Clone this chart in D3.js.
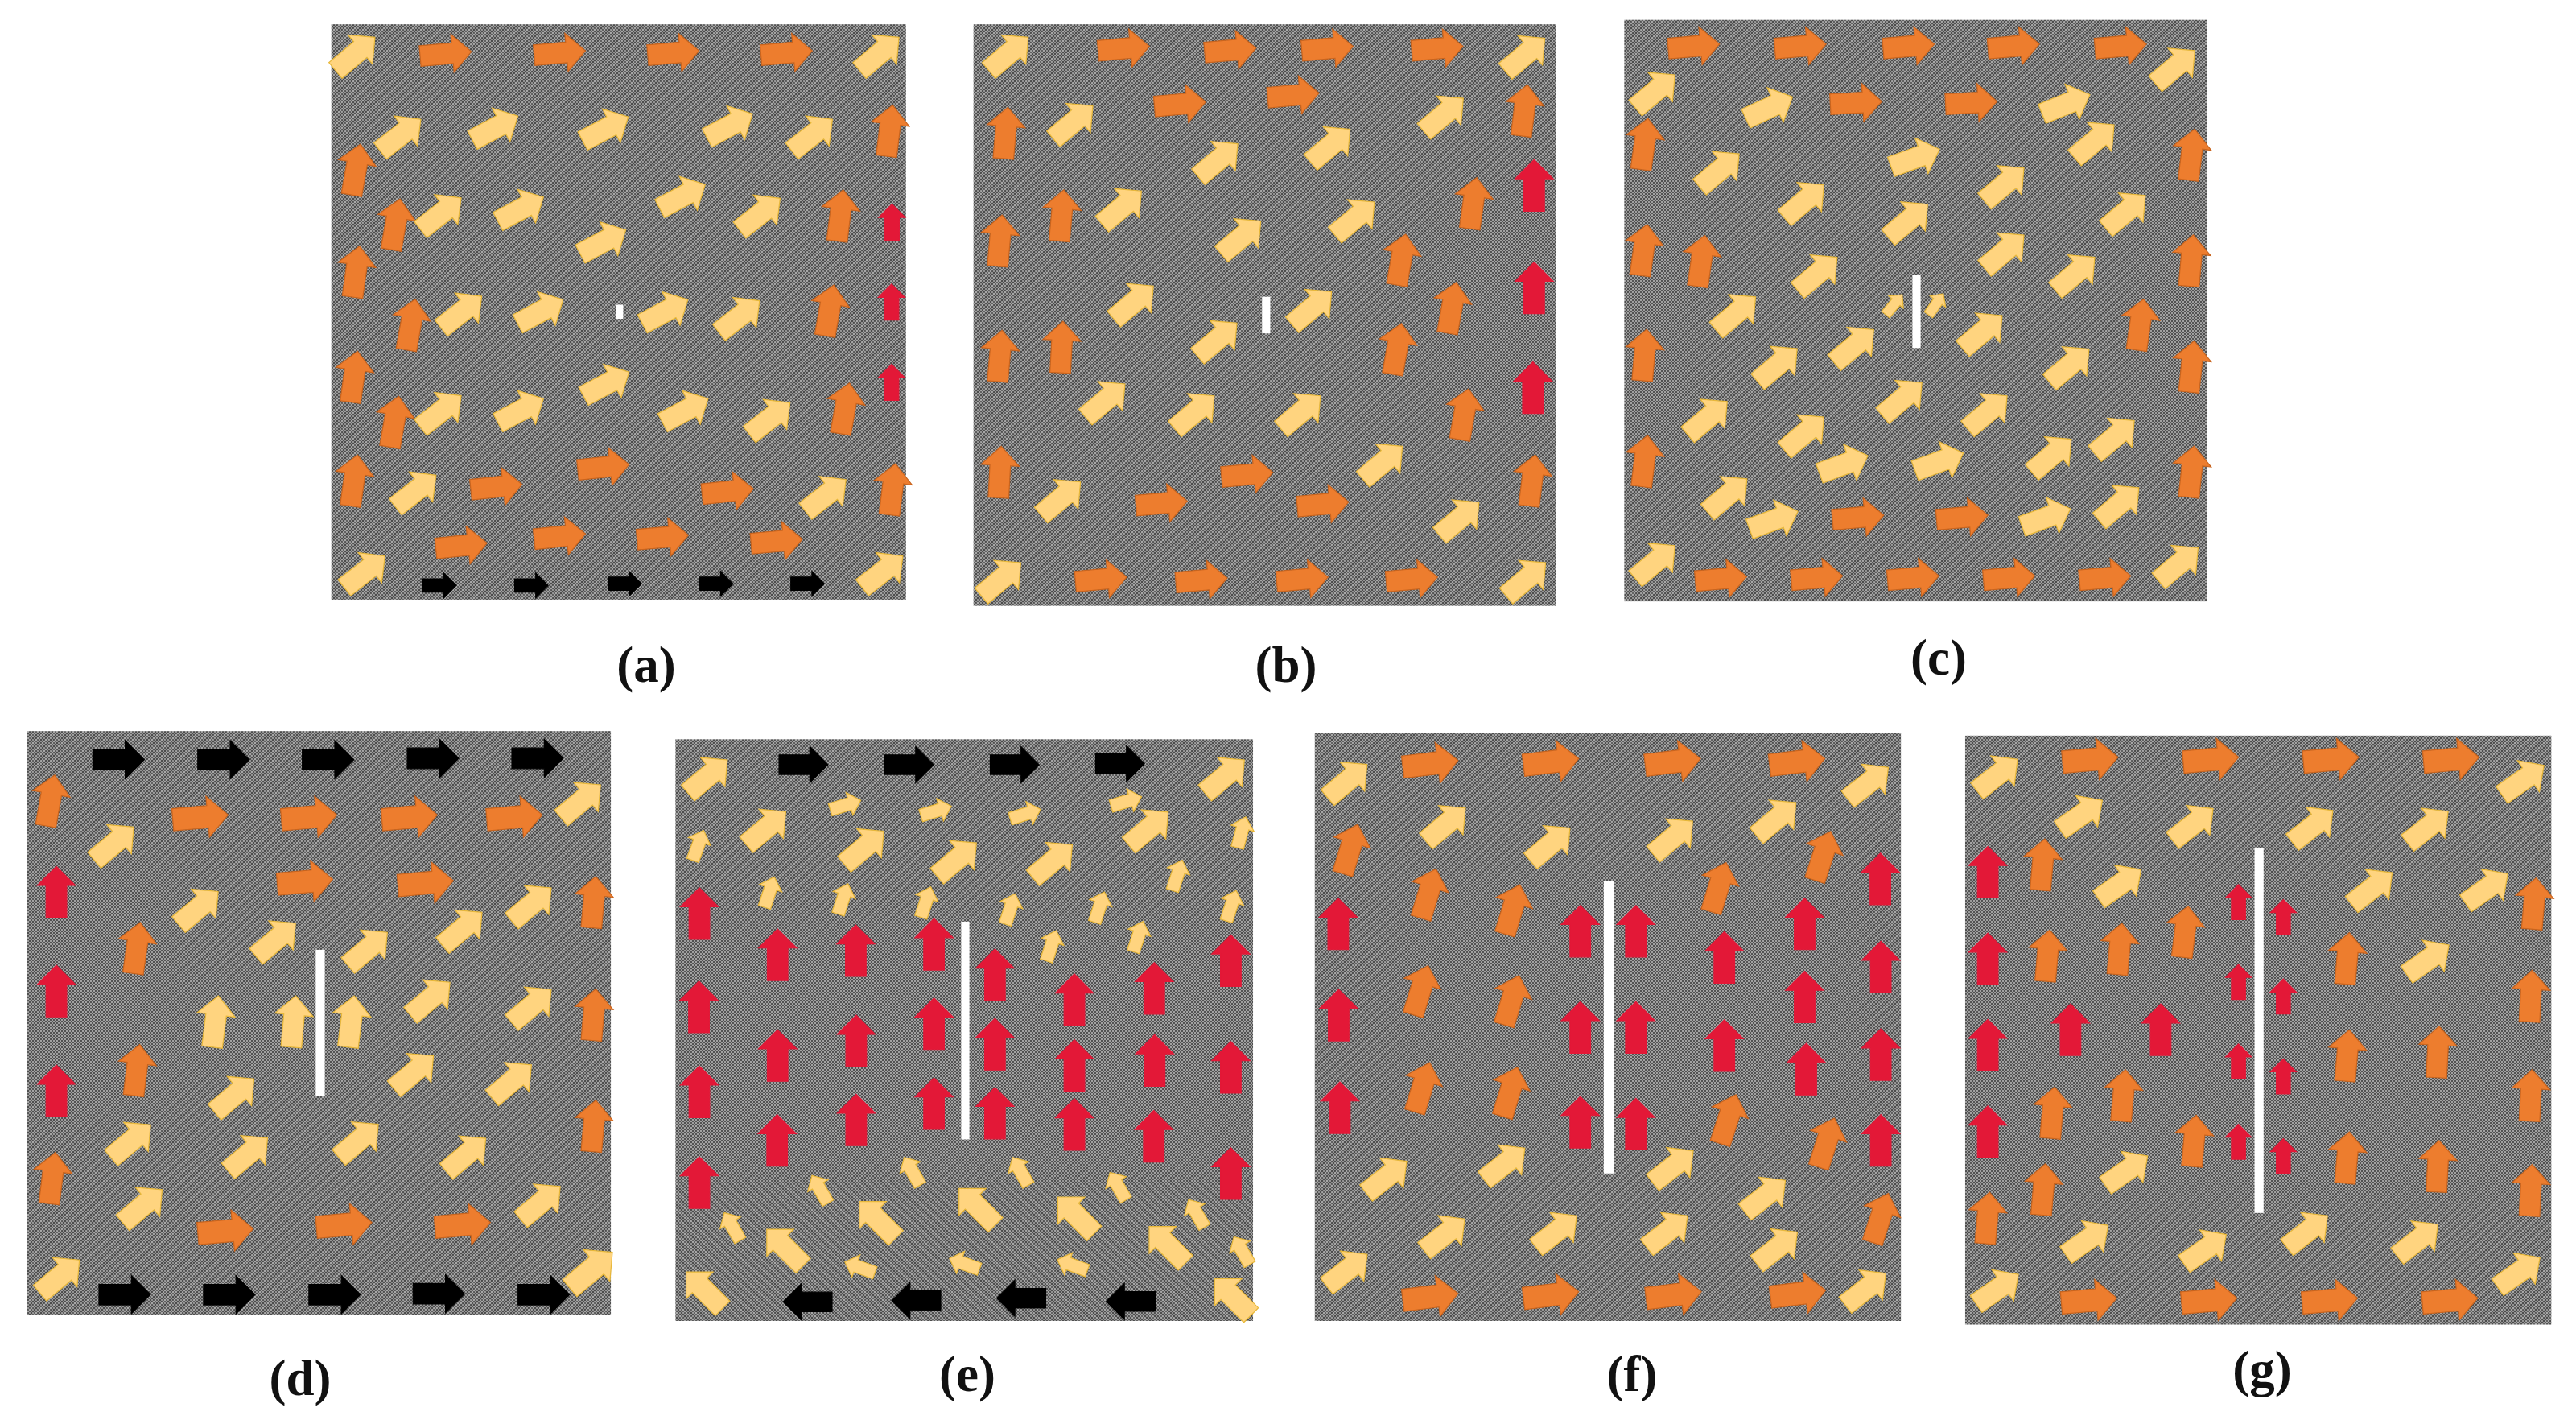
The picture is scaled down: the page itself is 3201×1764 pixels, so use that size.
<!DOCTYPE html>
<html><head><meta charset="utf-8">
<style>html,body{margin:0;padding:0;background:#fff}svg{display:block}</style>
<script src="https://cdn.jsdelivr.net/npm/d3@7"></script>
</head><body>
<script>
// Each row: field x, field y, direction in degrees, relative magnitude, class
const panelA = [
[120,122,40,1,"y"],[340,122,5,1,"o"],[617,120,5,1,"o"],[893,120,5,1,"o"],[1168,120,5,1,"o"],[1393,122,40,1,"y"],
[230,306,38,1,"y"],[460,290,28,1,"y"],[728,292,28,1,"y"],[1030,285,28,1,"y"],[1230,306,38,1,"y"],[1418,296,83,1,"o"],
[122,384,80,1,"o"],[218,508,80,1,"o"],[328,484,38,1,"y"],[522,474,28,1,"y"],[915,445,28,1,"y"],[1103,485,38,1,"y"],[1298,488,83,1,"o"],[1424,503,90,.7,"r"],
[122,615,82,1,"o"],[255,735,80,1,"o"],[378,707,38,1,"y"],[570,706,28,1,"y"],[722,548,28,1,"y"],[873,706,28,1,"y"],[1053,717,38,1,"y"],[1272,703,80,1,"o"],[1423,684,90,.7,"r"],
[117,853,82,1,"o"],[215,955,80,1,"o"],[328,932,38,1,"y"],[522,930,28,1,"y"],[730,870,28,1,"y"],[922,930,28,1,"y"],[1127,948,38,1,"y"],[1310,925,80,1,"o"],[1423,866,90,.7,"r"],
[117,1088,82,1,"o"],[267,1112,38,1,"y"],[463,1103,6,1,"o"],[723,1058,6,1,"o"],[1025,1113,6,1,"o"],[1263,1122,38,1,"y"],[1425,1108,83,1,"o"],
[143,1295,38,1,"y"],[378,1236,6,1,"o"],[617,1215,6,1,"o"],[867,1217,5,1,"o"],[1144,1226,5,1,"o"],[1401,1295,38,1,"y"],
[325,1326,0,.65,"k"],[548,1326,0,.65,"k"],[775,1322,0,.65,"k"],[997,1322,0,.65,"k"],[1219,1322,0,.65,"k"]];
const panelB = [
[143,122,40,1,"y"],[423,110,5,1,"o"],[682,114,5,1,"o"],[918,110,5,1,"o"],[1185,110,5,1,"o"],[1398,124,40,1,"y"],
[300,277,40,1,"y"],[560,236,5,1,"o"],[835,216,5,1,"o"],[1200,260,40,1,"y"],[1396,250,83,1,"o"],
[136,301,85,1,"o"],[652,363,40,1,"y"],[925,330,40,1,"y"],[1420,420,90,1,"r"],
[272,488,85,1,"o"],[122,545,85,1,"o"],[418,470,40,1,"y"],[708,538,40,1,"y"],[984,495,40,1,"y"],[1272,460,82,1,"o"],
[1097,588,80,1,"o"],[1220,697,80,1,"o"],[1420,652,90,1,"r"],[447,685,40,1,"y"],[650,769,40,1,"y"],[880,698,40,1,"y"],
[272,786,87,1,"o"],[122,806,85,1,"o"],[1087,790,80,1,"o"],[1417,878,90,1,"r"],
[378,907,40,1,"y"],[595,934,40,1,"y"],[853,934,40,1,"y"],[1250,938,80,1,"o"],
[122,1069,87,1,"o"],[270,1129,40,1,"y"],[723,1075,5,1,"o"],[1052,1048,40,1,"y"],[1415,1088,83,1,"o"],
[515,1140,5,1,"o"],[907,1142,5,1,"o"],[1238,1175,40,1,"y"],
[125,1312,40,1,"y"],[368,1312,5,1,"o"],[612,1314,5,1,"o"],[857,1312,5,1,"o"],[1123,1312,5,1,"o"],[1400,1312,40,1,"y"]];
const panelC = [
[244,105,5,1,"o"],[503,105,5,1,"o"],[766,105,5,1,"o"],[1021,105,5,1,"o"],[1281,105,5,1,"o"],[1413,152,40,1,"y"],
[150,207,40,1,"y"],[427,244,25,1,"y"],[638,233,3,1,"o"],[918,233,3,1,"o"],[1148,236,22,1,"y"],[1217,320,40,1,"y"],[124,326,82,1,"o"],[1453,350,83,1,"o"],
[306,386,40,1,"y"],[782,358,20,1,"y"],[512,456,40,1,"y"],[764,500,40,1,"y"],[998,418,40,1,"y"],[1293,480,40,1,"y"],
[544,620,40,1,"y"],[998,570,40,1,"y"],[1170,620,40,1,"y"],[122,566,82,1,"o"],[262,591,82,1,"o"],[1452,590,85,1,"o"],
[730,690,50,.5,"y"],[832,689,55,.5,"y"],
[346,710,40,1,"y"],[633,784,40,1,"y"],[945,752,40,1,"y"],[1328,735,82,1,"o"],[124,804,85,1,"o"],[1453,830,84,1,"o"],
[447,827,40,1,"y"],[1156,828,40,1,"y"],[750,904,40,1,"y"],[957,934,40,1,"y"],
[277,947,40,1,"y"],[512,982,40,1,"y"],[1266,990,40,1,"y"],[1113,1032,40,1,"y"],[124,1044,83,1,"o"],[1453,1068,84,1,"o"],
[608,1052,20,1,"y"],[840,1046,20,1,"y"],[325,1122,40,1,"y"],[438,1178,20,1,"y"],[1100,1172,20,1,"y"],[1277,1142,40,1,"y"],
[643,1172,5,1,"o"],[896,1172,5,1,"o"],[150,1273,40,1,"y"],[1421,1278,40,1,"y"],
[310,1311,5,1,"o"],[543,1309,5,1,"o"],[777,1309,5,1,"o"],[1010,1309,5,1,"o"],[1243,1309,5,1,"o"]];
const panelD = [
[288,113,0,1,"k"],[543,113,0,1,"k"],[797,113,0,1,"k"],[1052,110,0,1,"k"],[1306,110,0,1,"k"],
[122,203,80,1,"o"],[277,298,40,1,"y"],[487,240,5,1.08,"o"],[751,240,5,1.08,"o"],[995,240,5,1.08,"o"],[1250,240,5,1.08,"o"],[1411,205,40,1,"y"],
[137,405,90,1,"r"],[482,440,40,1,"y"],[741,382,5,1.08,"o"],[1034,385,5,1.08,"o"],[1291,432,40,1,"y"],[1442,427,85,1,"o"],
[670,510,40,1,"y"],[893,530,40,1,"y"],[1123,486,40,1,"y"],[332,528,82,1,"o"],
[137,623,90,1,"r"],[523,690,83,1,"y"],[713,690,85,1,"y"],[853,690,83,1,"y"],[1045,640,40,1,"y"],[1291,656,40,1,"y"],[1442,675,85,1,"o"],
[137,843,90,1,"r"],[332,797,83,1,"o"],[569,853,40,1,"y"],[1005,802,40,1,"y"],[1243,822,40,1,"y"],[1442,920,85,1,"o"],
[318,954,40,1,"y"],[602,983,40,1,"y"],[871,953,40,1,"y"],[1132,984,40,1,"y"],[127,1035,83,1,"o"],
[346,1097,40,1,"y"],[1313,1090,40,1,"y"],[548,1152,5,1.08,"o"],[836,1138,5,1.08,"o"],[1124,1138,5,1.08,"o"],
[145,1252,40,1,"y"],[1436,1238,40,1.08,"y"],
[303,1292,0,1,"k"],[557,1292,0,1,"k"],[813,1292,0,1,"k"],[1066,1290,0,1,"k"],[1321,1292,0,1,"k"]];
const panelE = [
[155,150,40,1,"y"],[388,124,0,.95,"k"],[645,124,0,.95,"k"],[901,124,0,.95,"k"],[1157,122,0,.95,"k"],[1411,150,40,1,"y"],
[490,213,17,.62,"y"],[710,226,17,.62,"y"],[927,233,17,.62,"y"],[1172,205,17,.62,"y"],
[297,264,40,1,"y"],[1226,265,40,1,"y"],[535,307,40,1,"y"],[760,333,40,1,"y"],[993,337,40,1,"y"],
[132,302,70,.62,"y"],[1452,273,75,.62,"y"],[305,405,72,.62,"y"],[484,420,72,.62,"y"],[685,427,72,.62,"y"],[890,442,72,.62,"y"],[1107,438,72,.62,"y"],[1296,368,72,.62,"y"],[1427,435,72,.62,"y"],[990,523,72,.62,"y"],[1201,503,72,.62,"y"],
[135,452,90,1,"r"],[325,543,90,1,"r"],[515,534,90,1,"r"],[705,520,90,1,"r"],[853,587,90,1,"r"],[1046,642,90,1,"r"],[1240,617,90,1,"r"],[1426,556,90,1,"r"],
[134,658,90,1,"r"],[325,765,90,1,"r"],[516,733,90,1,"r"],[705,695,90,1,"r"],[853,740,90,1,"r"],[1046,787,90,1,"r"],[1241,776,90,1,"r"],[1426,791,90,1,"r"],
[135,845,90,1,"r"],[324,952,90,1,"r"],[516,907,90,1,"r"],[705,871,90,1,"r"],[853,892,90,1,"r"],[1046,917,90,1,"r"],[1239,943,90,1,"r"],[1426,1025,90,1,"r"],[135,1045,90,1,"r"],
[652,1020,120,.62,"y"],[915,1020,120,.62,"y"],[428,1060,120,.62,"y"],[1152,1053,120,.62,"y"],[215,1142,120,.62,"y"],[1343,1113,120,.62,"y"],[1453,1195,120,.62,"y"],
[568,1127,135,1,"y"],[810,1098,135,1,"y"],[1050,1117,135,1,"y"],[343,1188,135,1,"y"],[1272,1182,135,1,"y"],[147,1282,135,1,"y"],[1431,1297,135,1,"y"],
[525,1232,160,.62,"y"],[779,1224,160,.62,"y"],[1041,1227,160,.62,"y"],
[398,1308,180,.95,"k"],[662,1305,180,.95,"k"],[917,1300,180,.95,"k"],[1183,1307,180,.95,"k"]];
const panelF = [
[145,160,40,1,"y"],[347,122,7,1.08,"o"],[640,118,7,1.08,"o"],[936,118,7,1.08,"o"],[1238,118,7,1.08,"o"],[1410,165,38,1,"y"],
[384,256,40,1,"y"],[638,300,40,1,"y"],[936,285,40,1,"y"],[1187,244,40,1,"y"],[152,310,73,1,"o"],[1300,325,72,1,"o"],
[342,408,73,1,"o"],[546,443,73,1,"o"],[1047,394,73,1,"o"],[1440,376,90,1,"r"],[123,475,90,1,"r"],[711,491,90,1,"r"],[846,491,90,1,"r"],[1256,475,90,1,"r"],
[1061,549,90,1,"r"],[1441,570,90,1,"r"],[323,621,73,1,"o"],[544,643,73,1,"o"],[124,676,90,1,"r"],[711,703,90,1,"r"],[846,703,90,1,"r"],[1256,636,90,1,"r"],
[1061,743,90,1,"r"],[1441,763,90,1,"r"],[327,835,73,1,"o"],[540,845,73,1,"o"],[127,880,90,1,"r"],[711,912,90,1,"r"],[846,916,90,1,"r"],[1260,795,90,1,"r"],
[1070,905,72,1,"o"],[1441,952,90,1,"r"],[1309,957,72,1,"o"],[240,1033,38,1,"y"],[527,1004,38,1,"y"],[936,1010,38,1,"y"],
[1160,1075,38,1,"y"],[1440,1123,72,1,"o"],[381,1160,38,1,"y"],[653,1153,38,1,"y"],[922,1153,38,1,"y"],[1189,1189,38,1,"y"],
[144,1238,38,1,"y"],[1404,1280,38,1,"y"],
[347,1297,7,1.08,"o"],[640,1293,7,1.08,"o"],[938,1293,7,1.08,"o"],[1240,1290,7,1.08,"o"]];
const panelG = [
[160,147,38,1,"y"],[386,113,5,1.08,"o"],[679,113,5,1.08,"o"],[971,113,5,1.08,"o"],[1263,113,5,1.08,"o"],[1437,158,35,1,"y"],
[364,235,35,1,"y"],[635,256,38,1,"y"],[926,260,38,1,"y"],[1206,262,38,1,"y"],
[137,361,90,1,"r"],[270,344,85,1,"o"],[458,388,35,1,"y"],[1070,397,38,1,"y"],[1349,397,35,1,"y"],[1464,430,85,1,"o"],
[746,427,90,.68,"r"],[855,460,90,.68,"r"],[616,492,83,1,"o"],[282,545,85,1,"o"],[457,530,85,1,"o"],[1010,551,85,1,"o"],[1206,554,35,1,"y"],[1456,634,87,1,"o"],
[137,552,90,1,"r"],[746,603,90,.68,"r"],[855,635,90,.68,"r"],
[338,708,90,1,"r"],[557,708,90,1,"r"],[137,742,90,1,"r"],
[1010,765,85,1,"o"],[1230,757,87,1,"o"],[1456,853,87,1,"o"],[746,778,90,.68,"r"],[855,811,90,.68,"r"],
[466,853,85,1,"o"],[294,891,85,1,"o"],[137,933,90,1,"r"],[638,953,85,1,"o"],[746,955,90,.68,"r"],[855,987,90,.68,"r"],[1010,990,85,1,"o"],[1230,1009,87,1,"o"],[1456,1062,87,1,"o"],
[272,1060,85,1,"o"],[474,1019,35,1,"y"],[136,1123,85,1,"o"],
[378,1172,35,1,"y"],[665,1192,35,1,"y"],[913,1153,38,1,"y"],[1181,1172,38,1,"y"],
[160,1280,35,1,"y"],[1427,1243,35,1,"y"],
[383,1305,5,1.08,"o"],[675,1305,5,1.08,"o"],[968,1305,5,1.08,"o"],[1260,1305,5,1.08,"o"]];

const panelNames = ["(a)","(b)","(c)","(d)","(e)","(f)","(g)"];
const panelFields = [panelA,panelB,panelC,panelD,panelE,panelF,panelG];
// Crack: field x, field y top, field y bottom, field width
const cracks = [[762,690,722,18],[769,672,755,20],[785,622,788,20],[778,532,855,22],[781,470,950,20],[780,380,1025,24],[796,308,1112,22]];
// Field extents: x0,x1,y0,y1
const fieldBox = [[62,1458,55,1358],[58,1474,55,1372],[75,1490,45,1362],[66,1484,50,1337],[77,1480,68,1350],[66,1490,55,1350],[82,1506,60,1358]];
// Zones where the fringe stripes fade out: x0,x1,y0,y1 in field units
const calmZones = [
 [],
 [[1180,1478,450,950]],
 [[75,230,350,1000],[1330,1495,450,1000]],
 [[70,420,340,900],[430,900,600,800]],
 [[77,1488,470,1020]],
 [[280,1400,380,960]],
 [[90,1500,380,1080]]];
const originX = [380,1180,1980,0,800,1600,2400];
const originY = [0,0,0,880,880,880,880];
const labelX = [803,1598,2409,373,1202,2028,2811];
const labelY = [829,829,820,1715,1710,1710,1704];
const classes = ["y","o","r","k"];
const classColors = ["#FFD47F","#ED7D2E","#E31837","#000000"];
const classEdges = ["#E8B83A","#C8641E","#E31837","#000000"];

const W=3201,H=1764;
const svg=d3.select("body").append("svg").attr("width",W).attr("height",H).attr("viewBox",`0 0 ${W} ${H}`);
svg.append("rect").attr("width",W).attr("height",H).attr("fill","#fff");
const defs=svg.append("defs");
const chk=defs.append("pattern").attr("id","chk").attr("patternUnits","userSpaceOnUse").attr("width",4).attr("height",4);
chk.append("rect").attr("width",4).attr("height",4).attr("fill","#a2a2a2");
chk.append("rect").attr("width",2).attr("height",2).attr("fill","#525252");
chk.append("rect").attr("x",2).attr("y",2).attr("width",2).attr("height",2).attr("fill","#525252");
function stripes(id,rot){
  const q=defs.append("pattern").attr("id",id).attr("patternUnits","userSpaceOnUse").attr("width",8).attr("height",8).attr("patternTransform",`rotate(${rot})`);
  q.append("rect").attr("width",8).attr("height",3.5).attr("fill","#d0d0d0").attr("opacity",.13);
  q.append("rect").attr("y",3.5).attr("width",8).attr("height",4.5).attr("fill","#2a2a2a").attr("opacity",.13);
}
stripes("up",-42);
stripes("down",42);
defs.append("filter").attr("id","soft").attr("x","-30%").attr("y","-30%").attr("width","160%").attr("height","160%")
  .append("feGaussianBlur").attr("stdDeviation",24);

const colour=d3.scaleOrdinal(classes,classColors);
const edge=d3.scaleOrdinal(classes,classEdges);
const lenScale=d3.scaleLinear([0,1],[0,64]);

function arrowPath(L){
  const hw=L*.37,sw=L*.2,hl=L*.37;
  return d3.line()([[-L/2,-sw],[L/2-hl,-sw],[L/2-hl,-hw],[L/2,0],[L/2-hl,hw],[L/2-hl,sw],[-L/2,sw]])+"Z";
}

panelFields.forEach((rows,i)=>{
  const ky=originY[i]===0?1.823:1.774;
  const x=d3.scaleLinear([0,1955],[originX[i],originX[i]+1000]);
  const y=d3.scaleLinear([0,ky*1000],[originY[i],originY[i]+1000]);
  const g=svg.append("g");
  const b=fieldBox[i];
  const bx=x(b[0]),by=y(b[2]),bw=x(b[1])-x(b[0]),bh=y(b[3])-y(b[2]);
  const box=(fill)=>g.append("rect").attr("x",bx).attr("y",by).attr("width",bw).attr("height",bh).attr("fill",fill);
  box("url(#chk)");
  const m=defs.append("mask").attr("id","m"+i).attr("maskUnits","userSpaceOnUse").attr("x",bx).attr("y",by).attr("width",bw).attr("height",bh);
  m.append("rect").attr("x",bx).attr("y",by).attr("width",bw).attr("height",bh).attr("fill","#fff");
  calmZones[i].forEach(z=>{
    m.append("rect").attr("x",x(z[0])).attr("y",y(z[2])).attr("width",x(z[1])-x(z[0])).attr("height",y(z[3])-y(z[2])).attr("fill","#000").attr("filter","url(#soft)");
  });
  if(i===4){
    const mid=y(1040);
    const cu=defs.append("clipPath").attr("id","cu");
    cu.append("rect").attr("x",bx).attr("y",by).attr("width",bw).attr("height",mid-by);
    const cd=defs.append("clipPath").attr("id","cd");
    cd.append("rect").attr("x",bx).attr("y",mid).attr("width",bw).attr("height",by+bh-mid);
    const sg=g.append("g").attr("mask","url(#m4)");
    sg.append("rect").attr("x",bx).attr("y",by).attr("width",bw).attr("height",bh).attr("fill","url(#up)").attr("clip-path","url(#cu)");
    sg.append("rect").attr("x",bx).attr("y",by).attr("width",bw).attr("height",bh).attr("fill","url(#down)").attr("clip-path","url(#cd)");
  } else {
    box("url(#up)").attr("mask",`url(#m${i})`);
  }
  const c=cracks[i];
  const cw=x(c[3])-x(0);
  g.append("rect").attr("x",x(c[0])-cw/2).attr("y",y(c[1])).attr("width",cw).attr("height",y(c[2])-y(c[1])).attr("fill","#fff");
  g.selectAll("path.a").data(rows).join("path").attr("class","a")
    .attr("d",d=>arrowPath(lenScale(d[3])))
    .attr("transform",d=>`translate(${x(d[0])},${y(d[1])}) rotate(${-d[2]})`)
    .attr("fill",d=>colour(d[4]))
    .attr("stroke",d=>edge(d[4])).attr("stroke-width",1.2).attr("stroke-linejoin","miter");
  svg.append("text").attr("x",labelX[i]).attr("y",labelY[i]+18).attr("text-anchor","middle")
    .attr("font-family","Liberation Serif").attr("font-weight","bold").attr("font-size",63).attr("fill","#111").text(panelNames[i]);
});
</script>
</body></html>
